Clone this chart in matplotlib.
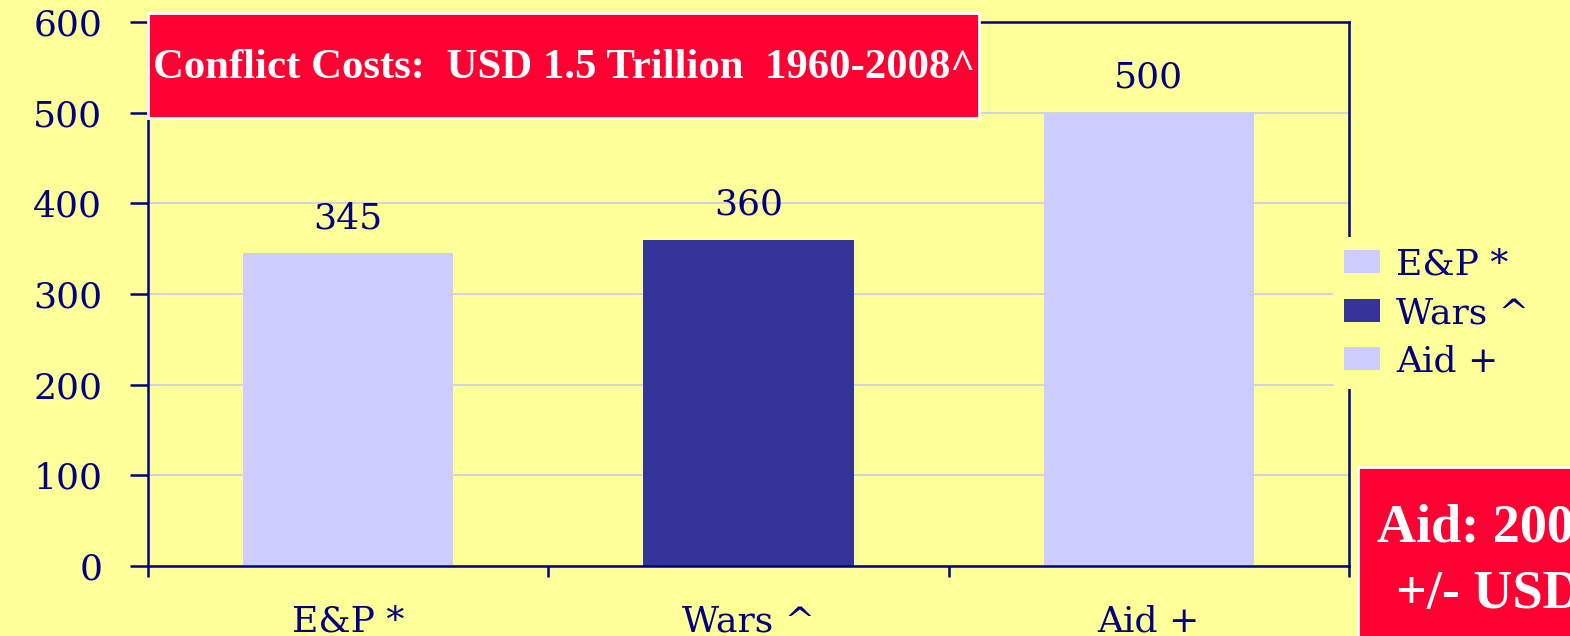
import matplotlib
matplotlib.use("Agg")
import matplotlib.pyplot as plt
from matplotlib.patches import Patch, Rectangle
from matplotlib.ticker import FixedLocator

categories = ["E&P *", "Wars ^", "Aid +"]
values = [345, 360, 500]
bar_colors = ["#CCCCFF", "#333399", "#CCCCFF"]
y_ticks = [0, 100, 200, 300, 400, 500, 600]

title_text = "Conflict Costs:  USD 1.5 Trillion  1960-2008^"
aid_text = "Aid: 2008\n+/- USD\n20 Billion"

navy = "#000080"
bg = "#FFFF99"
red = "#FF0033"
font = "DejaVu Serif"
fs = 26

fig = plt.figure(figsize=(15.7, 6.36), dpi=100, facecolor=bg)
ax = fig.add_axes([148 / 1570, 70 / 636, 1201 / 1570, 544 / 636], facecolor=bg)

x = list(range(len(categories)))
ax.bar(x, values, width=0.525, color=bar_colors, zorder=2)

# value labels above the bars
for xi, v in zip(x, values):
    ax.annotate(str(v), (xi, v), xytext=(0, 18), textcoords="offset points",
                ha="center", va="baseline", fontsize=fs, family=font,
                color=navy, zorder=4)

ax.set_xlim(-0.5, 2.5)
ax.set_ylim(0, 600)
ax.set_yticks(y_ticks)
ax.yaxis.grid(True, color="#CCCCEE", linewidth=1.2, zorder=1)
ax.set_axisbelow(True)

# category labels on major ticks, separators on minor ticks
ax.set_xticks(x)
ax.set_xticklabels(categories)
ax.xaxis.set_minor_locator(FixedLocator([-0.5, 0.5, 1.5, 2.5]))
ax.tick_params(axis="x", which="major", length=0, pad=28, labelsize=fs,
               labelcolor=navy)
ax.tick_params(axis="x", which="minor", length=8, width=1.8, color=navy,
               direction="out")
ax.tick_params(axis="y", length=13, width=1.8, color=navy, pad=20,
               labelsize=fs, labelcolor=navy)
for lab in ax.get_xticklabels() + ax.get_yticklabels():
    lab.set_family(font)

for side in ["left", "bottom", "top", "right"]:
    ax.spines[side].set_color(navy)
    ax.spines[side].set_linewidth(1.8)

# legend on the right
handles = [Patch(facecolor=c, edgecolor="none") for c in bar_colors]
leg = fig.legend(handles, categories, loc="center left",
                 bbox_to_anchor=(1333 / 1570, 1 - 313 / 636),
                 prop={"family": font, "size": fs}, labelcolor=navy,
                 frameon=True, facecolor=bg, edgecolor="none", framealpha=1,
                 handlelength=1.0, handleheight=0.6, handletextpad=0.45,
                 labelspacing=0.4, borderpad=0.3, borderaxespad=0)

# red title box over the top of the plot
fig.patches.append(Rectangle((148 / 1570, 1 - 118 / 636), 831 / 1570, 105 / 636,
                             transform=fig.transFigure, facecolor=red,
                             edgecolor="white", linewidth=2, zorder=5))
fig.text(564 / 1570, 1 - 68 / 636, title_text, ha="center", va="center",
         family="Liberation Serif", weight="bold", fontsize=30.8, color="white",
         zorder=6)

# red aid box at the lower right
fig.patches.append(Rectangle((1358 / 1570, -0.05), 0.2, 1.05 - 467 / 636,
                             transform=fig.transFigure, facecolor=red,
                             edgecolor="white", linewidth=2, zorder=5))
fig.text(1377 / 1570, 1 - 504 / 636, aid_text, ha="left", va="top",
         multialignment="center", family="Liberation Serif", weight="bold",
         fontsize=39, color="white", linespacing=1.42, zorder=6)

fig.savefig("out.png", dpi=100, facecolor=bg)
